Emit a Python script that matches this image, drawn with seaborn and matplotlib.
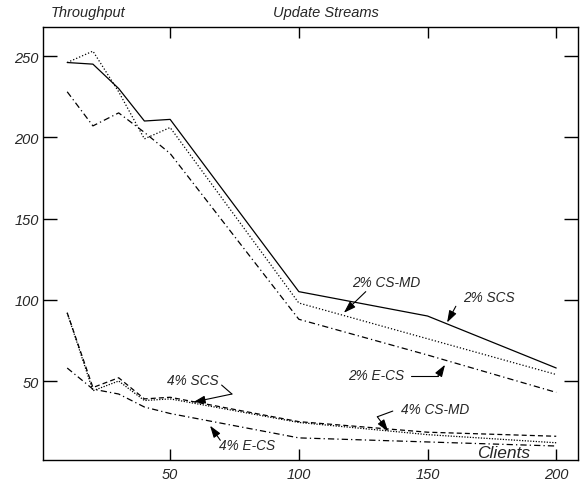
import matplotlib
matplotlib.use("Agg")
import matplotlib.pyplot as plt
import seaborn as sns
import pandas as pd

clients = [10, 20, 30, 40, 50, 100, 150, 200]
scs_2 = [246, 245, 230, 210, 211, 105, 90, 58]
csmd_2 = [246, 253, 228, 199, 206, 98, 76, 54]
ecs_2 = [228, 207, 215, 203, 190, 88, 66, 43]
scs_4 = [92, 44, 50, 38, 39, 24.5, 17, 12]
csmd_4 = [92, 46, 52, 39, 40, 25, 18.5, 16]
ecs_4 = [58, 45, 42, 34, 30, 15, 12.5, 10]

series = {
    "2% SCS": scs_2, "2% CS-MD": csmd_2, "2% E-CS": ecs_2,
    "4% SCS": scs_4, "4% CS-MD": csmd_4, "4% E-CS": ecs_4,
}
styles = {
    "2% SCS": "-", "2% CS-MD": (0, (1, 1.6)), "2% E-CS": (0, (5, 2.5, 1, 2.5)),
    "4% SCS": (0, (1, 1.2)), "4% CS-MD": (0, (4, 2.5)), "4% E-CS": (0, (5, 2.5, 1, 2.5)),
}

sns.set_theme(style="ticks")
plt.rcParams["font.family"] = ["Liberation Sans", "DejaVu Sans"]

fig = plt.figure(figsize=(5.81, 4.81), dpi=100)
ax = fig.add_axes([0.074, 0.0416, 0.921, 0.900])

for name, vals in series.items():
    df = pd.DataFrame({"x": clients, "y": vals})
    sns.lineplot(data=df, x="x", y="y", ax=ax, color="black", lw=0.9,
                 linestyle=styles[name], legend=False)

ax.set_xlim(0.6, 208.5)
ax.set_ylim(1.4, 267.8)
ax.set_xticks([50, 100, 150, 200])
ax.set_yticks([50, 100, 150, 200, 250])
ax.set_xlabel("")
ax.set_ylabel("")
for s in ax.spines.values():
    s.set_linewidth(1.0)
    s.set_color("black")
ax.tick_params(axis="x", direction="in", length=8, width=1, top=True,
               labelsize=10.5, pad=5, color="black")
ax.tick_params(axis="y", direction="in", length=10, width=1, right=True,
               labelsize=10.5, pad=3, color="black")
for lab in ax.get_xticklabels() + ax.get_yticklabels():
    lab.set_style("italic")

fs = 9.8
arrow = dict(arrowstyle="-|>,head_length=0.6,head_width=0.2", color="black", lw=0.8,
             shrinkA=0, shrinkB=0)

ax.text(134, 111, "2% CS-MD", style="italic", fontsize=fs, ha="center", va="center")
ax.annotate("", xy=(117.5, 92), xytext=(126, 105), arrowprops=arrow)

ax.text(174, 101.5, "2% SCS", style="italic", fontsize=fs, ha="center", va="center")
ax.annotate("", xy=(157.6, 86), xytext=(161, 96), arrowprops=arrow)

ax.text(130, 54, "2% E-CS", style="italic", fontsize=fs, ha="center", va="center")
ax.plot([143.5, 154], [53, 53], color="black", lw=0.8)
ax.annotate("", xy=(156.8, 60), xytext=(154, 53), arrowprops=arrow)

ax.text(59, 50.5, "4% SCS", style="italic", fontsize=fs, ha="center", va="center")
ax.plot([70, 74], [47.5, 42], color="black", lw=0.8)
ax.annotate("", xy=(59, 37), xytext=(74, 42), arrowprops=arrow)

ax.text(153, 33, "4% CS-MD", style="italic", fontsize=fs, ha="center", va="center")
ax.plot([136.5, 130.5], [31.5, 28], color="black", lw=0.8)
ax.annotate("", xy=(134.7, 19), xytext=(130.5, 28), arrowprops=arrow)

ax.text(80, 10.5, "4% E-CS", style="italic", fontsize=fs, ha="center", va="center")
ax.annotate("", xy=(65.5, 22.5), xytext=(69.5, 13.5), arrowprops=arrow)

ax.text(179.5, 6, "Clients", style="italic", fontsize=12.5, ha="center", va="center")

fig.text(88 / 581, 1 - 13 / 481, "Throughput", style="italic", fontsize=10.5,
         ha="center", va="center")
fig.text(326 / 581, 1 - 13 / 481, "Update Streams", style="italic", fontsize=10.5,
         ha="center", va="center")

fig.savefig("out.png", dpi=100)
